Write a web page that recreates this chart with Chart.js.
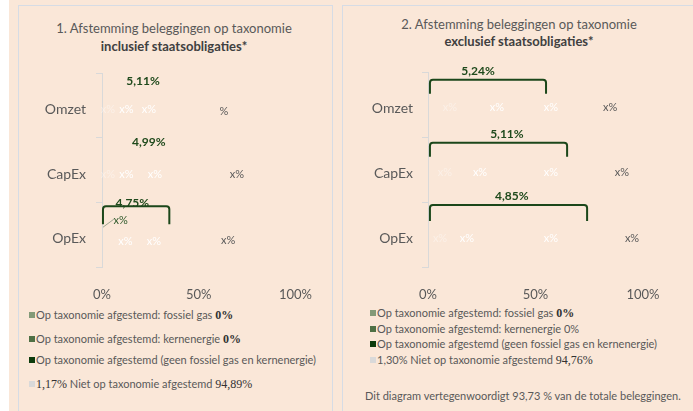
<!DOCTYPE html>
<html>
<head>
<meta charset="utf-8">
<script src="https://cdn.jsdelivr.net/npm/chart.js@4.4.1/dist/chart.umd.min.js"></script>
<style>
  body { margin: 0; width: 693px; height: 411px; overflow: hidden; position: relative; background: #fff; font-family: Lato, "Open Sans", sans-serif; }
  #bg { position: absolute; left: 9px; top: 0; width: 684px; height: 411px; background: #fae7d8; }
  .panel { position: absolute; top: 5px; height: 420px; border: 1px solid #d6dce5; border-bottom: none; }
  .title { position: absolute; text-align: center; color: #595959; font-size: 13px; }
  .title b { color: #404040; }
  .wrap { position: absolute; top: 55px; height: 250px; }
  .leg { position: absolute; font-size: 11px; color: #595959; height: 14px; line-height: 14px; white-space: nowrap; }
  .leg i { display: inline-block; width: 6px; height: 6px; margin-right: 1px; vertical-align: 1px; }
  .num { font-family: "Liberation Serif", serif; color: #333; font-size: 12px; }
  .note { position: absolute; font-size: 11px; color: #595959; white-space: nowrap; height: 14px; line-height: 14px; }
</style>
</head>
<body>
<div id="bg"></div>
<div class="panel" style="left:18px;width:313px"></div>
<div class="panel" style="left:342px;width:400px;border-right:none"></div>

<div class="title" style="left:19px;width:310px;top:19px;line-height:18px">1. Afstemming beleggingen op taxonomie<br><b>inclusief staatsobligaties*</b></div>
<div class="title" style="left:343px;width:352px;top:16px;line-height:17px">2. Afstemming beleggingen op taxonomie<br><b>exclusief staatsobligaties*</b></div>

<div class="wrap" style="left:18px;width:314px"><canvas id="chart1"></canvas></div>
<div class="wrap" style="left:342px;width:351px"><canvas id="chart2"></canvas></div>

<div id="legend1"></div>
<div id="legend2"></div>
<div class="note" style="left:365px;top:389px">Dit diagram vertegenwoordigt 93,73 % van de totale beleggingen.</div>

<script>
var categories = ['Omzet', 'CapEx', 'OpEx'];
var seriesNames = ['Op taxonomie afgestemd: fossiel gas', 'Op taxonomie afgestemd: kernenergie',
    'Op taxonomie afgestemd (geen fossiel gas en kernenergie)', 'Niet op taxonomie afgestemd'];
var seriesColors = ['#839a78', '#4f7045', '#0c3b0c', '#d9d9d9'];
var xTicks = [0, 50, 100];

// 1. inclusief staatsobligaties
var gas1 = [0, 0, 0];
var nuclear1 = [0, 0, 0];
var aligned1 = [5.11, 4.99, 4.75];
var notAligned1 = [94.89, 95.01, 95.25];
var extra1 = 1.17;

// 2. exclusief staatsobligaties
var gas2 = [0, 0, 0];
var nuclear2 = [0, 0, 0];
var aligned2 = [5.24, 5.11, 4.85];
var notAligned2 = [94.76, 94.89, 95.15];
var extra2 = 1.30;

function fmt(v) {
    if (v === 0) return '0%';
    return v.toFixed(2).replace('.', ',') + '%';
}

// label placement as it is in the picture: x in axis %, dy in px from the row centre
var layout1 = {
    totals: [[21.2, -25], [24.2, -28], [15.7, -31.5]],
    brackets: [{row: 2, from: 0.5, to: 34.8, top: -28.5, bottom: -10.5}],
    leader: {row: 2, from: [0.5, -7.5], to: [6.1, -15.5], x: 9.6, dy: -14.5},
    marks: [
        [[3, 4, 'faint', 'x%'], [12.6, 4, 'white', 'x%'], [24.2, 4, 'white', 'x%'], [63, 6, 'dark', '%']],
        [[3, 4, 'faint', 'x%'], [12.6, 4, 'white', 'x%'], [27.3, 4, 'white', 'x%'], [69.7, 4, 'dark', 'x%']],
        [[12.1, 7, 'white', 'x%'], [26.8, 6.5, 'white', 'x%'], [65.2, 5.5, 'dark', 'x%']]
    ]
};
var layout2 = {
    totals: [[23.3, -34], [36.7, -36], [39, -38.5]],
    brackets: [
        {row: 0, from: 0.9, to: 54.9, top: -25, bottom: -11},
        {row: 1, from: 0.9, to: 64.7, top: -27, bottom: -13},
        {row: 2, from: 0.9, to: 74, top: -29.5, bottom: -13.5}
    ],
    leader: null,
    marks: [
        [[10.2, 3, 'faint', 'x%'], [32.1, 3, 'white', 'x%'], [57.2, 3, 'white', 'x%'], [84.7, 3, 'dark', 'x%']],
        [[7.9, 3, 'faint', 'x%'], [24.2, 3, 'white', 'x%'], [57.2, 3, 'white', 'x%'], [90.2, 3, 'dark', 'x%']],
        [[5.6, 3.5, 'faint', 'x%'], [18.1, 3.5, 'white', 'x%'], [57.2, 3.5, 'white', 'x%'], [94.9, 3.5, 'dark', 'x%']]
    ]
};

var markColors = {faint: 'rgba(255,255,255,0.4)', white: '#ffffff', dark: '#595959'};

function notesPlugin(layout, aligned) {
    return {
        id: 'notes',
        afterDatasetsDraw: function (chart) {
            var c = chart.ctx, xs = chart.scales.x, ys = chart.scales.y;
            c.save();
            c.textAlign = 'center';
            c.textBaseline = 'middle';

            c.font = '11px Lato';
            layout.marks.forEach(function (row, i) {
                var yc = ys.getPixelForValue(i);
                row.forEach(function (m) {
                    c.fillStyle = markColors[m[2]];
                    c.fillText(m[3], xs.getPixelForValue(m[0]), yc + m[1]);
                });
            });

            if (layout.leader) {
                var l = layout.leader, yl = ys.getPixelForValue(l.row);
                c.strokeStyle = '#84937c';
                c.lineWidth = 0.8;
                c.beginPath();
                c.moveTo(xs.getPixelForValue(l.from[0]), yl + l.from[1]);
                c.lineTo(xs.getPixelForValue(l.to[0]), yl + l.to[1]);
                c.stroke();
                c.fillStyle = '#2f5a2b';
                c.fillText('x%', xs.getPixelForValue(l.x), yl + l.dy);
            }

            c.font = 'bold 12px Lato';
            c.fillStyle = '#1f4a1c';
            layout.totals.forEach(function (t, i) {
                c.fillText(fmt(aligned[i]), xs.getPixelForValue(t[0]), ys.getPixelForValue(i) + t[1]);
            });

            c.strokeStyle = '#1b471a';
            c.lineWidth = 2;
            layout.brackets.forEach(function (b) {
                var yc = ys.getPixelForValue(b.row);
                var x0 = xs.getPixelForValue(b.from), x1 = xs.getPixelForValue(b.to);
                var t = yc + b.top, bt = yc + b.bottom;
                c.beginPath();
                c.moveTo(x0, bt);
                c.lineTo(x0, t + 3);
                c.quadraticCurveTo(x0, t, x0 + 3, t);
                c.lineTo(x1 - 3, t);
                c.quadraticCurveTo(x1, t, x1, t + 3);
                c.lineTo(x1, bt);
                c.stroke();
            });
            c.restore();
        }
    };
}

function makeChart(id, series, layout, axisWidth, rightPad, labelPad) {
    var datasets = series.map(function (d, i) {
        return {
            label: seriesNames[i],
            data: d,
            backgroundColor: 'rgba(0,0,0,0)',
            borderWidth: 0
        };
    });
    return new Chart(document.getElementById(id), {
        type: 'bar',
        data: {labels: categories, datasets: datasets},
        options: {
            indexAxis: 'y',
            responsive: true,
            maintainAspectRatio: false,
            animation: false,
            layout: {padding: {top: 12, bottom: 0, left: 0, right: rightPad}},
            plugins: {legend: {display: false}, tooltip: {enabled: false}},
            scales: {
                x: {
                    stacked: true,
                    min: 0,
                    max: 100,
                    afterBuildTicks: function (s) { s.ticks = xTicks.map(function (v) { return {value: v}; }); },
                    afterFit: function (s) { s.height = 38; },
                    grid: {display: false, drawTicks: false},
                    border: {display: false},
                    ticks: {
                        padding: 20,
                        color: '#595959',
                        font: {family: 'Lato', size: 13},
                        callback: function (v) { return v + '%'; }
                    }
                },
                y: {
                    stacked: true,
                    afterFit: function (s) { s.width = axisWidth; },
                    grid: {drawOnChartArea: false, color: '#d9d9d9', tickLength: 6},
                    border: {color: '#d9d9d9', width: 1},
                    ticks: {
                        padding: labelPad,
                        labelOffset: 4,
                        color: '#595959',
                        font: {family: 'Lato', size: 14}
                    }
                }
            }
        },
        plugins: [notesPlugin(layout, series[2])]
    });
}

makeChart('chart1', [gas1, nuclear1, aligned1, notAligned1], layout1, 84, 32, 10);
makeChart('chart2', [gas2, nuclear2, aligned2, notAligned2], layout2, 86, 50, 9);

function num(v) { return '<span class="num">' + v + '</span>'; }
function sq(i) { return '<i style="background:' + seriesColors[i] + '"></i>'; }

function legend(el, left, tops, rows) {
    document.getElementById(el).innerHTML = rows.map(function (r, i) {
        return '<div class="leg" style="left:' + left + 'px;top:' + (tops[i] - 7) + 'px">' + r + '</div>';
    }).join('');
}

legend('legend1', 29, [315, 339, 360, 384], [
    sq(0) + seriesNames[0] + ' ' + num('<b>' + fmt(gas1[0]) + '</b>'),
    sq(1) + seriesNames[1] + ' ' + num('<b>' + fmt(nuclear1[0]) + '</b>'),
    sq(2) + seriesNames[2],
    sq(3) + num(fmt(extra1)) + ' ' + seriesNames[3] + ' ' + num(fmt(notAligned1[0]))
]);
legend('legend2', 370, [313, 329, 344, 360], [
    sq(0) + seriesNames[0] + ' ' + num('<b>' + fmt(gas2[0]) + '</b>'),
    sq(1) + seriesNames[1] + ' ' + fmt(nuclear2[0]),
    sq(2) + seriesNames[2],
    sq(3) + fmt(extra2) + ' ' + seriesNames[3] + ' ' + num(fmt(notAligned2[0]))
]);
</script>
</body>
</html>
